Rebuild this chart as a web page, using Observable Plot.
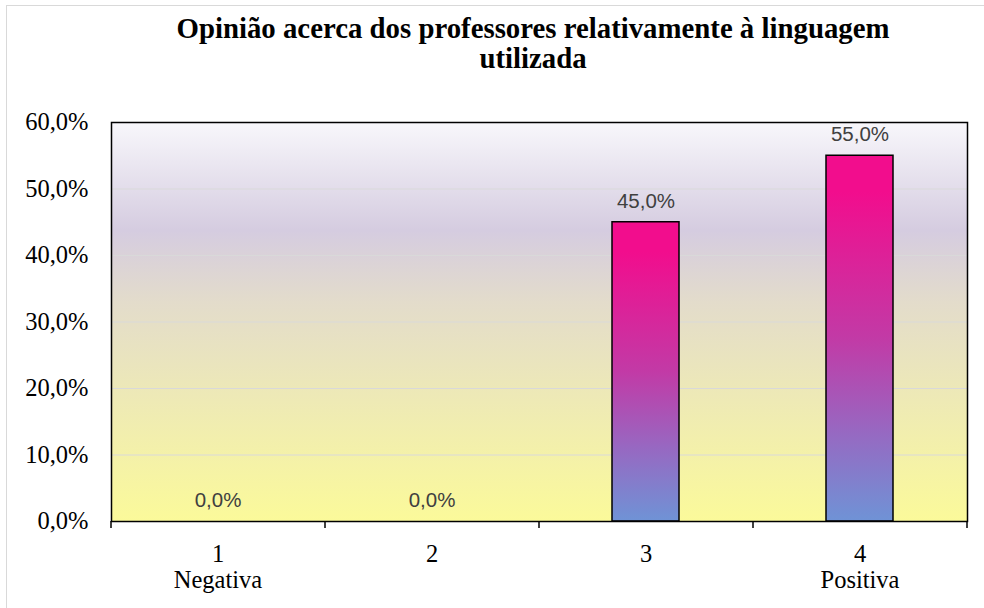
<!DOCTYPE html>
<html><head><meta charset="utf-8">
<script src="https://cdn.jsdelivr.net/npm/d3@7"></script>
<script src="https://cdn.jsdelivr.net/npm/@observablehq/plot@0.6"></script>
<style>
body{margin:0;background:#fff;}
#wrap{position:relative;width:984px;height:608px;overflow:hidden;}
#border{position:absolute;left:6px;top:5px;width:1200px;height:900px;border-left:1px solid #d9d9d9;border-top:1px solid #d9d9d9;}
#title{position:absolute;left:82px;width:902px;top:13px;text-align:center;white-space:nowrap;font:bold 28.8px/30px "Liberation Serif",serif;color:#000;}
#chart{position:absolute;left:0;top:0;}
</style></head><body>
<div id="wrap"><div id="border"></div><div id="chart"></div><div id="title">Opinião acerca dos professores relativamente à linguagem<br>utilizada</div></div>
<script>
const categories = ["1", "2", "3", "4"];
const categoryNotes = ["Negativa", "", "", "Positiva"];
const percentages = [0, 0, 45, 55];
const yTicks = [0, 10, 20, 30, 40, 50, 60];

const data = categories.map((c, i) => ({cat: c, note: categoryNotes[i], value: percentages[i]}));
const fmt = v => v.toFixed(1).replace(".", ",") + "%";

function gradients() {
  const g = d3.create("svg:g");
  const defs = g.append("defs");
  const bg = defs.append("linearGradient").attr("id", "bgGrad").attr("x1", 0).attr("y1", 0).attr("x2", 0).attr("y2", 1);
  [[0, "#f8f7fb"], [0.27, "#d5cce0"], [0.45, "#e3dccb"], [0.72, "#efebb3"], [1, "#fbfa9a"]]
    .forEach(([o, c]) => bg.append("stop").attr("offset", o).attr("stop-color", c));
  const bar = defs.append("linearGradient").attr("id", "barGrad").attr("x1", 0).attr("y1", 0).attr("x2", 0).attr("y2", 1);
  [[0, "#f20d8d"], [0.1, "#f20d8d"], [0.5, "#c23aa6"], [0.75, "#9867c1"], [1, "#6f93d6"]]
    .forEach(([o, c]) => bar.append("stop").attr("offset", o).attr("stop-color", c));
  return g.node();
}

function boundaryTicks(index, scales, values, dims) {
  const {marginLeft, marginRight, width, height, marginBottom} = dims;
  const n = categories.length;
  const step = (width - marginLeft - marginRight) / n;
  const g = d3.create("svg:g");
  for (let i = 0; i <= n; i++) {
    const x = marginLeft + i * step;
    g.append("line").attr("x1", x).attr("x2", x)
      .attr("y1", height - marginBottom).attr("y2", height - marginBottom + 7)
      .attr("stroke", "#000").attr("stroke-width", 1.5);
  }
  return g.node();
}

const chart = Plot.plot({
  width: 984,
  height: 608,
  marginTop: 122,
  marginBottom: 87,
  marginLeft: 111,
  marginRight: 17,
  style: {background: "transparent", overflow: "visible"},
  x: {domain: categories, paddingInner: 0.685, paddingOuter: 0.3425},
  y: {domain: [0, 60]},
  marks: [
    gradients,
    Plot.frame({fill: "url(#bgGrad)"}),
    Plot.gridY(yTicks.slice(1, -1), {stroke: "#d9d9d9", strokeOpacity: 1, strokeWidth: 1.2}),
    Plot.barY(data, {x: "cat", y: "value", fill: "url(#barGrad)", stroke: "#000", strokeWidth: 1.5}),
    Plot.frame({stroke: "#000", strokeWidth: 1.5}),
    boundaryTicks,
    Plot.axisY(yTicks, {tickSize: 0, tickPadding: 23, tickFormat: fmt, fontSize: 24.5, fontFamily: "Liberation Serif", fill: "#000", label: null}),
    Plot.axisX(categories, {tickSize: 0, tickPadding: 22, tickFormat: d => d + "\n" + categoryNotes[categories.indexOf(d)], fontSize: 24.5, fontFamily: "Liberation Serif", lineHeight: 1.06, fill: "#000", label: null}),
    Plot.text(data, {x: "cat", y: "value", text: d => fmt(d.value), dy: -21, fontSize: 20.5, fontFamily: "Liberation Sans", fill: "#404040"})
  ]
});
document.getElementById("chart").appendChild(chart);
</script>
</body></html>
